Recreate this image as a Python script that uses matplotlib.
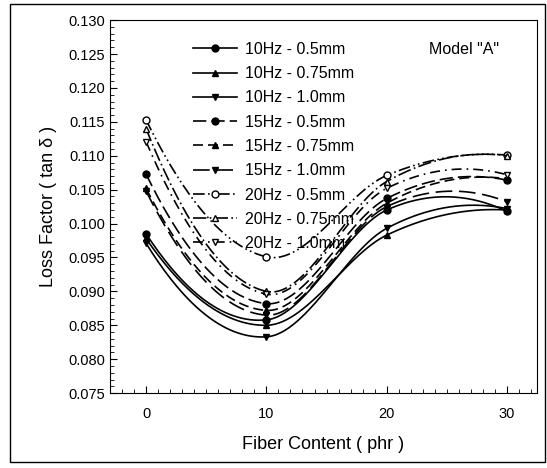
import numpy as np
import matplotlib.pyplot as plt
from matplotlib.patches import Rectangle
from matplotlib.ticker import MultipleLocator

plt.rcParams['font.family'] = ['Liberation Sans', 'DejaVu Sans']

fiber = [0, 10, 20, 30]

labels = ["10Hz - 0.5mm", "10Hz - 0.75mm", "10Hz - 1.0mm",
          "15Hz - 0.5mm", "15Hz - 0.75mm", "15Hz - 1.0mm",
          "20Hz - 0.5mm", "20Hz - 0.75mm", "20Hz - 1.0mm"]

hz10_05 = [0.0985, 0.0858, 0.1020, 0.1018]
hz10_075 = [0.0978, 0.0850, 0.0983, 0.1020]
hz10_10 = [0.0971, 0.0833, 0.0993, 0.1022]
hz15_05 = [0.1073, 0.0882, 0.1037, 0.1064]
hz15_075 = [0.1052, 0.0872, 0.1030, 0.1066]
hz15_10 = [0.1048, 0.0865, 0.1025, 0.1032]
hz20_05 = [0.1153, 0.0951, 0.1071, 0.1101]
hz20_075 = [0.1140, 0.0900, 0.1062, 0.1100]
hz20_10 = [0.1121, 0.0896, 0.1052, 0.1072]

series = [hz10_05, hz10_075, hz10_10, hz15_05, hz15_075, hz15_10,
          hz20_05, hz20_075, hz20_10]

markers = ['o', '^', 'v'] * 3
faces = ['black'] * 6 + ['white'] * 3
styles = ['-', '-', '-',
          (0, (8, 3)), (0, (6, 3)), (0, (10, 4)),
          (0, (7, 2, 1, 2, 1, 2)), (0, (8, 2, 1, 2)), (0, (6, 3, 1, 3))]


def smooth(x, y, n=60):
    # cardinal (Catmull-Rom style) hermite curve through the points
    x = np.asarray(x, float)
    y = np.asarray(y, float)
    m = np.zeros_like(y)
    m[1:-1] = (y[2:] - y[:-2]) / (x[2:] - x[:-2])
    m[0] = 2 * (y[1] - y[0]) / (x[1] - x[0]) - m[1]
    m[-1] = 2 * (y[-1] - y[-2]) / (x[-1] - x[-2]) - m[-2]
    xo, yo = [], []
    for i in range(len(x) - 1):
        h = x[i + 1] - x[i]
        t = np.linspace(0, 1, n)
        h00 = 2 * t**3 - 3 * t**2 + 1
        h10 = t**3 - 2 * t**2 + t
        h01 = -2 * t**3 + 3 * t**2
        h11 = t**3 - t**2
        xo.append(x[i] + t * h)
        yo.append(h00 * y[i] + h10 * h * m[i] + h01 * y[i + 1] + h11 * h * m[i + 1])
    return np.concatenate(xo), np.concatenate(yo)


fig = plt.figure(figsize=(5.47, 4.68), dpi=100)
ax = fig.add_axes([0.201, 0.160, 0.781, 0.797])

for lab, vals, mk, fc, ls in zip(labels, series, markers, faces, styles):
    sx, sy = smooth(fiber, vals)
    ax.plot(sx, sy, color='black', lw=1.2, ls=ls)
    ax.plot(fiber, vals, ls='none', marker=mk, ms=5, mfc=fc, mec='black',
            mew=1, color='black')
    ax.plot([], [], color='black', lw=1.2, ls=ls, marker=mk, ms=5, mfc=fc,
            mec='black', label=lab)

ax.set_xlim(-3, 32.5)
ax.set_ylim(0.075, 0.130)
ax.set_xticks([0, 10, 20, 30])
ax.set_yticks(np.arange(0.075, 0.1301, 0.005))
ax.yaxis.set_major_formatter(plt.FormatStrFormatter('%.3f'))
ax.xaxis.set_minor_locator(MultipleLocator(1))
ax.yaxis.set_minor_locator(MultipleLocator(0.001))
ax.tick_params(direction='in', which='major', length=5, labelsize=10.5)
ax.tick_params(direction='in', which='minor', length=3)
ax.tick_params(axis='x', pad=10)

ax.set_xlabel("Fiber Content ( phr )", fontsize=13, labelpad=11)
ax.set_ylabel("Loss Factor ( tan δ )", fontsize=13, labelpad=8)

ax.text(0.91, 0.92, 'Model "A"', transform=ax.transAxes, ha='right',
        va='center', fontsize=11.5)

ax.legend(loc='upper left', bbox_to_anchor=(0.16, 0.98), frameon=False,
          fontsize=11.5, handlelength=2.8, labelspacing=0.58, handletextpad=0.5)

fig.patches.append(Rectangle((0.018, 0.013), 0.978, 0.979, transform=fig.transFigure,
                             fill=False, edgecolor='black', lw=1))

fig.savefig("out.png", dpi=100)
